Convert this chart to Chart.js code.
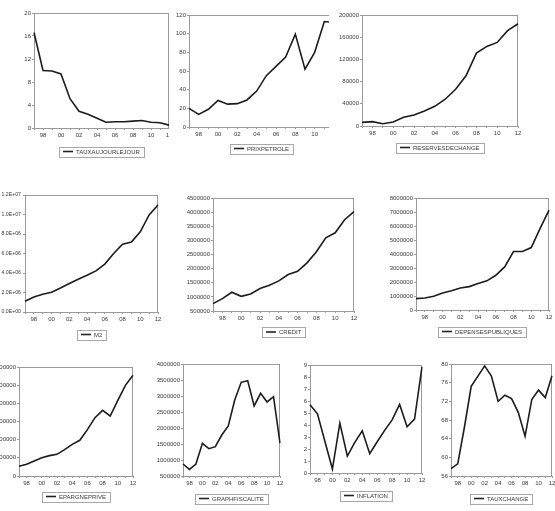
<!DOCTYPE html>
<html>
<head>
<meta charset="utf-8">
<script src="https://cdn.jsdelivr.net/npm/chart.js@4.4.1/dist/chart.umd.min.js"></script>
<style>
    body { margin: 0; background: #fff; width: 555px; height: 511px; overflow: hidden; position: relative; }
    .panel { position: absolute; overflow: hidden; }
    .panel canvas { position: absolute; left: 0; top: 0; }
</style>
</head>
<body>
<script>
// 年（1997〜2012）
const years = [1997, 1998, 1999, 2000, 2001, 2002, 2003, 2004, 2005, 2006, 2007, 2008, 2009, 2010, 2011, 2012];

// 各系列の値
const tauxAuJourLeJour = [16.6, 10.0, 9.9, 9.4, 5.1, 2.9, 2.4, 1.7, 1.0, 1.1, 1.1, 1.2, 1.3, 1.0, 0.9, 0.5];
const prixPetrole = [20, 13.5, 19, 28.5, 24.5, 25, 29, 38.5, 55, 65, 75, 99.5, 62, 80, 113, 112];
const reservesDeChange = [6600, 7800, 4200, 7200, 15700, 19900, 27000, 35500, 48200, 66300, 90400, 131300, 143400, 150600, 171700, 184300];
const m2 = [1100000, 1540000, 1820000, 2020000, 2470000, 2920000, 3360000, 3770000, 4220000, 4910000, 6000000, 6960000, 7170000, 8230000, 9950000, 10980000];
const credit = [760000, 938000, 1163000, 1020000, 1104000, 1293000, 1411000, 1565000, 1790000, 1908000, 2204000, 2595000, 3092000, 3269000, 3731000, 4015000];
const depensesPubliques = [810000, 860000, 980000, 1220000, 1380000, 1570000, 1670000, 1890000, 2080000, 2480000, 3080000, 4180000, 4180000, 4460000, 5830000, 7140000];
const epargnePrive = [266000, 321000, 413000, 505000, 560000, 596000, 725000, 872000, 982000, 1275000, 1606000, 1807000, 1651000, 2083000, 2495000, 2771000];
const graphFiscalite = [875000, 708000, 875000, 1521000, 1354000, 1417000, 1781000, 2063000, 2875000, 3427000, 3479000, 2688000, 3083000, 2813000, 2979000, 1530000];
const inflation = [5.68, 4.93, 2.63, 0.33, 4.16, 1.41, 2.55, 3.52, 1.61, 2.6, 3.55, 4.43, 5.71, 3.85, 4.49, 8.84];
const tauxChange = [57.6, 58.6, 66.5, 75.2, 77.4, 79.6, 77.4, 72.0, 73.3, 72.6, 69.6, 64.5, 72.4, 74.4, 72.8, 77.5];

// 軸の範囲 [最小, 最大, 間隔]
const yRanges = {
    TAUXAUJOURLEJOUR: [0, 20, 4],
    PRIXPETROLE: [0, 120, 20],
    RESERVESDECHANGE: [0, 200000, 40000],
    M2: [0, 12000000, 2000000],
    CREDIT: [500000, 4500000, 500000],
    DEPENSESPUBLIQUES: [0, 8000000, 1000000],
    EPARGNEPRIVE: [0, 3000000, 500000],
    GRAPHFISCALITE: [500000, 4000000, 500000],
    INFLATION: [0, 9, 1],
    TAUXCHANGE: [56, 80, 4]
};

// パネル配置: プロット領域 [左, 上, 右, 下], clip = 右端の切り取り位置
const panels = [
    { label: 'TAUXAUJOURLEJOUR', data: tauxAuJourLeJour, plot: [34, 13, 169, 128], clip: 169, legendDy: 23.5 },
    { label: 'PRIXPETROLE', data: prixPetrole, plot: [189, 15, 334, 127], clip: 329, legendDy: 21.5 },
    { label: 'RESERVESDECHANGE', data: reservesDeChange, plot: [362, 15, 518, 126], legendDy: 21.5 },
    { label: 'M2', data: m2, plot: [25, 195, 158, 312], legendDy: 22.5, sci: true },
    { label: 'CREDIT', data: credit, plot: [213, 198, 354, 311], legendDy: 21 },
    { label: 'DEPENSESPUBLIQUES', data: depensesPubliques, plot: [416, 198, 549, 310], legendDy: 21.5 },
    { label: 'EPARGNEPRIVE', data: epargnePrive, plot: [19, 367, 133, 476], legendDy: 20.5 },
    { label: 'GRAPHFISCALITE', data: graphFiscalite, plot: [183, 364, 280, 476], legendDy: 22.5 },
    { label: 'INFLATION', data: inflation, plot: [310, 365, 422, 473], legendDy: 22.5 },
    { label: 'TAUXCHANGE', data: tauxChange, plot: [451, 364, 552, 476], legendDy: 22.5 }
];

const FONT = '"Liberation Sans", Arial, sans-serif';
const YW = 42;   // y軸の幅
const TOP = 6;
const BOT = 32;
const RIGHT = 6;

Chart.defaults.font.family = FONT;
Chart.defaults.font.size = 6;
Chart.defaults.color = '#3a3a3a';

// 指数表記 (1.2E+07)
function sciLabel(v) {
    const [m, e] = Number(v).toExponential(1).split('e');
    return m + 'E' + e[0] + e.slice(1).padStart(2, '0');
}

// 枠と凡例
const framePlugin = {
    id: 'frame',
    beforeDatasetsDraw(chart) {
        const { ctx, chartArea: a } = chart;
        ctx.save();
        ctx.strokeStyle = '#9a9a9a';
        ctx.lineWidth = 1;
        ctx.strokeRect(Math.round(a.left) + 0.5, Math.round(a.top) + 0.5,
            Math.round(a.right - a.left) - 1, Math.round(a.bottom - a.top));
        ctx.restore();
    },
    afterDraw(chart, args, opts) {
        const { ctx, chartArea: a } = chart;
        const text = chart.data.datasets[0].label;
        ctx.save();
        ctx.font = '6px ' + FONT;
        const tw = ctx.measureText(text).width;
        const w = 4 + 10 + 3 + tw + 4;
        const h = 10;
        const cx = (a.left + a.right) / 2;
        const cy = a.bottom + opts.dy;
        const x = Math.round(cx - w / 2) + 0.5;
        const y = Math.round(cy - h / 2) + 0.5;
        ctx.strokeStyle = '#a8a8a8';
        ctx.lineWidth = 1;
        ctx.strokeRect(x, y, Math.round(w), h);
        ctx.strokeStyle = '#222222';
        ctx.lineWidth = 1.6;
        ctx.beginPath();
        ctx.moveTo(x + 3.5, cy);
        ctx.lineTo(x + 13.5, cy);
        ctx.stroke();
        ctx.fillStyle = '#3a3a3a';
        ctx.textBaseline = 'middle';
        ctx.fillText(text, x + 16.5, cy + 0.5);
        ctx.restore();
    }
};

panels.forEach(p => {
    const [L, T, R, B] = p.plot;
    const left = L - YW;
    const top = T - TOP;
    const width = (R - L) + YW + RIGHT;
    const height = (B - T) + TOP + BOT;

    const wrap = document.createElement('div');
    wrap.className = 'panel';
    wrap.style.left = left + 'px';
    wrap.style.top = top + 'px';
    wrap.style.width = (p.clip ? p.clip - left : width) + 'px';
    wrap.style.height = height + 'px';
    const canvas = document.createElement('canvas');
    canvas.width = width;
    canvas.height = height;
    canvas.style.width = width + 'px';
    canvas.style.height = height + 'px';
    wrap.appendChild(canvas);
    document.body.appendChild(wrap);

    const [ymin, ymax, ystep] = yRanges[p.label];

    new Chart(canvas.getContext('2d'), {
        type: 'line',
        data: {
            labels: years.map(String),
            datasets: [{
                label: p.label,
                data: p.data,
                borderColor: '#1c1c1c',
                borderWidth: 1.6,
                pointRadius: 0,
                tension: 0,
                fill: false
            }]
        },
        options: {
            responsive: false,
            animation: false,
            devicePixelRatio: 1,
            layout: { padding: { top: TOP, right: RIGHT, left: 0, bottom: 0 } },
            plugins: {
                legend: { display: false },
                tooltip: { enabled: false },
                frame: { dy: p.legendDy }
            },
            scales: {
                x: {
                    type: 'category',
                    offset: false,
                    border: { display: false },
                    grid: { drawOnChartArea: false, drawTicks: true, tickLength: 2, color: '#9a9a9a' },
                    ticks: {
                        autoSkip: false,
                        maxRotation: 0,
                        padding: 2,
                        callback: (v, i) => years[i] % 2 === 0 ? String(years[i]).slice(2) : ''
                    },
                    afterFit: s => { s.height = BOT; s.paddingLeft = 0; s.paddingRight = 0; }
                },
                y: {
                    min: ymin,
                    max: ymax,
                    border: { display: false },
                    grid: { drawOnChartArea: false, drawTicks: true, tickLength: 2, color: '#9a9a9a' },
                    ticks: {
                        stepSize: ystep,
                        padding: p.sci ? 2 : 1,
                        font: { size: p.sci ? 5.2 : 6 },
                        callback: v => p.sci ? sciLabel(v) : String(v)
                    },
                    afterFit: s => { s.width = YW; s.paddingTop = 0; s.paddingBottom = 0; }
                }
            }
        },
        plugins: [framePlugin]
    });
});
</script>
</body>
</html>
